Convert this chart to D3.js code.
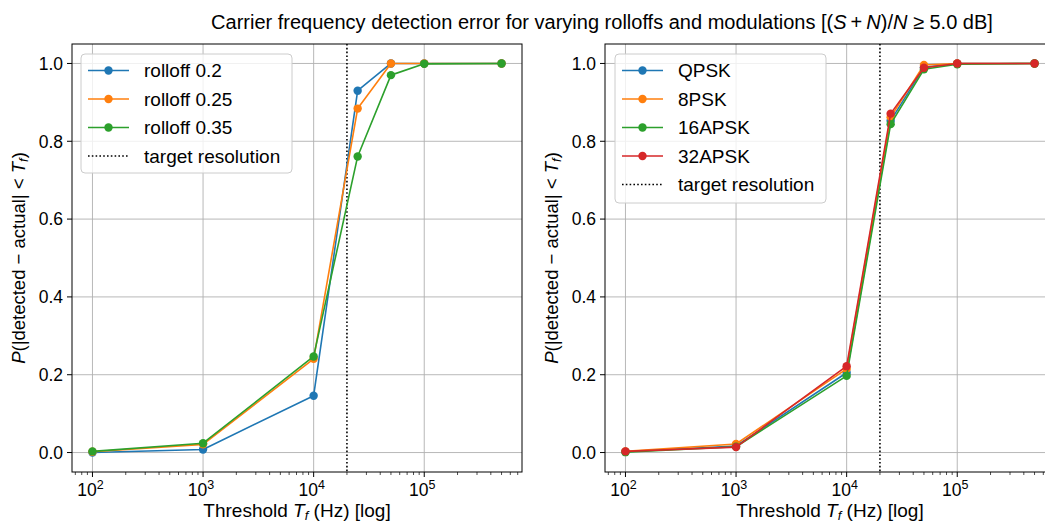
<!DOCTYPE html>
<html>
<head>
<meta charset="utf-8">
<script src="https://cdn.jsdelivr.net/npm/d3@7"></script>
<style>
  html, body { margin: 0; padding: 0; background: #fff; }
  svg { display: block; font-family: "Liberation Sans", Arial, Helvetica, sans-serif; }
</style>
</head>
<body>
<svg id="chart" width="1045" height="525"></svg>
<script>
// ---- data ----
const thresholds = [100, 1000, 10000, 25000, 50000, 100000, 500000];
const targetResolution = 20000;

const rolloffLabels = ["rolloff 0.2", "rolloff 0.25", "rolloff 0.35"];
const rolloff02  = [0.000, 0.008, 0.146, 0.930, 1.000, 1.000, 1.000];
const rolloff025 = [0.002, 0.021, 0.241, 0.884, 1.000, 1.000, 1.000];
const rolloff035 = [0.003, 0.024, 0.247, 0.761, 0.970, 0.999, 1.000];

const modLabels = ["QPSK", "8PSK", "16APSK", "32APSK"];
const qpsk   = [0.002, 0.017, 0.205, 0.853, 0.990, 1.000, 1.000];
const psk8   = [0.003, 0.022, 0.215, 0.862, 0.996, 1.000, 1.000];
const apsk16 = [0.001, 0.015, 0.197, 0.844, 0.985, 0.998, 1.000];
const apsk32 = [0.003, 0.014, 0.222, 0.871, 0.989, 1.000, 1.000];

const yTicks = [0.0, 0.2, 0.4, 0.6, 0.8, 1.0];
const colors = ["#1f77b4", "#ff7f0e", "#2ca02c", "#d62728"];

const svg = d3.select("#chart");

// title
const title = svg.append("text")
  .attr("x", 602).attr("y", 29)
  .attr("text-anchor", "middle")
  .style("font-size", "20px").attr("fill", "#000");
title.append("tspan").text("Carrier frequency detection error for varying rolloffs and modulations [(");
title.append("tspan").style("font-style", "italic").text("S");
title.append("tspan").text("\u2009+\u2009");
title.append("tspan").style("font-style", "italic").text("N");
title.append("tspan").text(")/");
title.append("tspan").style("font-style", "italic").text("N");
title.append("tspan").text(" \u2265 5.0 dB]");

function panel(x0, x1, seriesList, labels, legendBox) {
  const top = 44, bottom = 472;
  const lo = Math.log10(d3.min(thresholds)), hi = Math.log10(d3.max(thresholds));
  const pad = (hi - lo) * 0.05;
  const x = d3.scaleLog().domain([Math.pow(10, lo - pad), Math.pow(10, hi + pad)]).range([x0, x1]);
  const y = d3.scaleLinear().domain([-0.05, 1.05]).range([bottom, top]);

  const g = svg.append("g");
  const majors = x.ticks().filter(v => Math.abs(Math.log10(v) - Math.round(Math.log10(v))) < 1e-9);
  const minors = x.ticks().filter(v => !majors.includes(v));

  // grid
  g.selectAll(".gx").data(majors).enter().append("line")
    .attr("x1", d => x(d)).attr("x2", d => x(d)).attr("y1", top).attr("y2", bottom)
    .attr("stroke", "#b0b0b0").attr("stroke-width", 0.9);
  g.selectAll(".gy").data(yTicks).enter().append("line")
    .attr("x1", x0).attr("x2", x1).attr("y1", d => y(d)).attr("y2", d => y(d))
    .attr("stroke", "#b0b0b0").attr("stroke-width", 0.9);

  // target line
  g.append("line")
    .attr("x1", x(targetResolution)).attr("x2", x(targetResolution))
    .attr("y1", top).attr("y2", bottom)
    .attr("stroke", "#000").attr("stroke-width", 1.6).attr("stroke-dasharray", "1.6,2.2");

  // series
  const line = d3.line().x((d, i) => x(thresholds[i])).y(d => y(d));
  seriesList.forEach((s, k) => {
    g.append("path").datum(s).attr("d", line)
      .attr("fill", "none").attr("stroke", colors[k]).attr("stroke-width", 1.6)
      .attr("stroke-linejoin", "round");
    g.selectAll(".m" + k).data(s).enter().append("circle")
      .attr("cx", (d, i) => x(thresholds[i])).attr("cy", d => y(d))
      .attr("r", 4.2).attr("fill", colors[k]);
  });

  // frame
  g.append("rect").attr("x", x0).attr("y", top).attr("width", x1 - x0).attr("height", bottom - top)
    .attr("fill", "none").attr("stroke", "#000").attr("stroke-width", 1);

  // x ticks
  g.selectAll(".tmaj").data(majors).enter().append("line")
    .attr("x1", d => x(d)).attr("x2", d => x(d)).attr("y1", bottom).attr("y2", bottom + 5)
    .attr("stroke", "#000").attr("stroke-width", 1);
  g.selectAll(".tmin").data(minors).enter().append("line")
    .attr("x1", d => x(d)).attr("x2", d => x(d)).attr("y1", bottom).attr("y2", bottom + 3)
    .attr("stroke", "#000").attr("stroke-width", 0.7);
  majors.forEach(v => {
    const t = g.append("text").attr("x", x(v) - 2).attr("y", bottom + 24)
      .attr("text-anchor", "middle").style("font-size", "17.5px");
    t.append("tspan").text("10");
    t.append("tspan").attr("dy", -7.5).style("font-size", "12.5px").text(String(Math.round(Math.log10(v))));
  });

  // y ticks
  g.selectAll(".ty").data(yTicks).enter().append("line")
    .attr("x1", x0 - 5).attr("x2", x0).attr("y1", d => y(d)).attr("y2", d => y(d))
    .attr("stroke", "#000").attr("stroke-width", 1);
  g.selectAll(".tyl").data(yTicks).enter().append("text")
    .attr("x", x0 - 9).attr("y", d => y(d) + 6.3)
    .attr("text-anchor", "end").style("font-size", "17.5px").text(d => d3.format(".1f")(d));

  // x label
  const xl = g.append("text").attr("x", (x0 + x1) / 2).attr("y", 516.5)
    .attr("text-anchor", "middle").style("font-size", "19px");
  xl.append("tspan").text("Threshold ");
  xl.append("tspan").style("font-style", "italic").text("T");
  xl.append("tspan").style("font-style", "italic").style("font-size", "13px").attr("dy", 3).text("f");
  xl.append("tspan").attr("dy", -3).text(" (Hz) [log]");

  // y label
  const yl = g.append("text")
    .attr("transform", `translate(${x0 - 47},${(top + bottom) / 2}) rotate(-90)`)
    .attr("text-anchor", "middle").style("font-size", "18.5px");
  yl.append("tspan").style("font-style", "italic").text("P");
  yl.append("tspan").text("(|detected \u2212 actual| < ");
  yl.append("tspan").style("font-style", "italic").text("T");
  yl.append("tspan").style("font-style", "italic").style("font-size", "13px").attr("dy", 3).text("f");
  yl.append("tspan").attr("dy", -3).text(")");

  // legend
  const lg = svg.append("g");
  lg.append("rect").attr("x", legendBox.x).attr("y", legendBox.y)
    .attr("width", legendBox.w).attr("height", legendBox.h)
    .attr("rx", 4).attr("ry", 4)
    .attr("fill", "#fff").attr("fill-opacity", 0.8)
    .attr("stroke", "#cccccc").attr("stroke-width", 1);
  const entries = labels.map((l, k) => ({ label: l, color: colors[k], dotted: false }))
    .concat([{ label: "target resolution", color: "#000", dotted: true }]);
  entries.forEach((e, k) => {
    const cy = legendBox.y + 16.5 + k * 28.5;
    const lx0 = legendBox.x + 7, lx1 = legendBox.x + 48;
    lg.append("line").attr("x1", lx0).attr("x2", lx1).attr("y1", cy).attr("y2", cy)
      .attr("stroke", e.color).attr("stroke-width", 1.6)
      .attr("stroke-dasharray", e.dotted ? "1.6,2.2" : null);
    if (!e.dotted) {
      lg.append("circle").attr("cx", (lx0 + lx1) / 2).attr("cy", cy).attr("r", 4.2).attr("fill", e.color);
    }
    lg.append("text").attr("x", legendBox.x + 63).attr("y", cy + 6.5)
      .style("font-size", "19px").text(e.label);
  });
}

panel(72, 522, [rolloff02, rolloff025, rolloff035], rolloffLabels, { x: 81, y: 54, w: 211, h: 119 });
panel(605, 1055, [qpsk, psk8, apsk16, apsk32], modLabels, { x: 615, y: 54, w: 211, h: 149 });
</script>
</body>
</html>
